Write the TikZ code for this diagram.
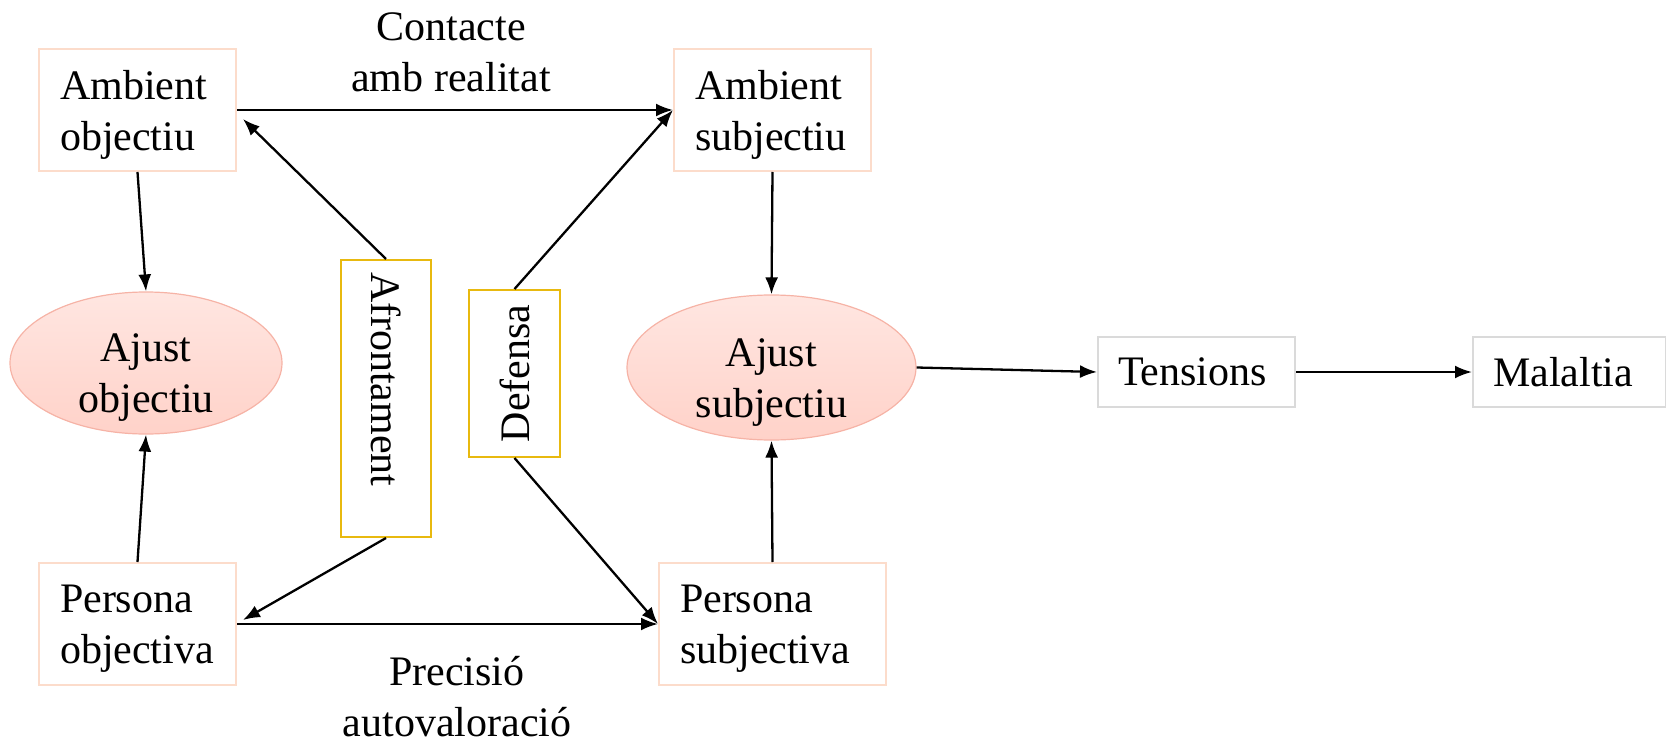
\documentclass[tikz,border=0pt]{standalone}
\usepackage{fontspec}
\setmainfont{Liberation Serif}
\usetikzlibrary{shapes.geometric,arrows.meta,calc}
\definecolor{peachline}{HTML}{FCDCCB}
\definecolor{greyline}{HTML}{DADADA}
\definecolor{goldline}{HTML}{E8B90F}
\definecolor{ellline}{HTML}{F6B3A6}
\definecolor{elltop}{HTML}{FFE6E1}
\definecolor{ellbot}{HTML}{FFD2C9}
\tikzset{
  txt/.style={font=\fontsize{42}{51}\selectfont},
  box/.style={draw=peachline, line width=2pt, fill=white,
    minimum height=122pt, inner sep=0pt},
  boxtext/.style={txt, inner sep=0pt, align=left},
  greybox/.style={txt, draw=greyline, line width=2pt, fill=white,
    minimum height=70pt, inner xsep=20pt, inner ysep=0pt, align=left},
  goldbox/.style={txt, draw=goldline, line width=2pt, fill=white,
    inner xsep=12pt, inner ysep=0pt, align=left},
  ell/.style={ellipse, draw=ellline, line width=1.2pt,
    top color=elltop, bottom color=ellbot, inner sep=0pt},
  elltext/.style={txt, inner sep=0pt, align=center},
  lbl/.style={txt, align=center, inner sep=0pt},
  arr/.style={line width=2.3pt, -{Latex[length=17pt,width=13pt]}},
}
\begin{document}
\begin{tikzpicture}[x=1pt,y=-1pt]
\useasboundingbox (0,0) rectangle (1666,741);

% boxes
\node[box, minimum width=197pt] (ao) at (137.5,110) {};
\node[box, minimum width=197pt] (as) at (772.5,110) {};
\node[box, minimum width=197pt] (po) at (137.5,624) {};
\node[box, minimum width=227pt] (ps) at (772.5,624) {};
\node[boxtext, text width=155pt] (aot) at ([yshift=-5pt]ao.center) {Ambient\\objectiu};
\node[boxtext, text width=155pt] (ast) at ([yshift=-5pt]as.center) {Ambient\\subjectiu};
\node[boxtext, text width=155pt] (pot) at ([yshift=-5pt]po.center) {Persona\\objectiva};
\node[boxtext, text width=185pt] (pst) at ([yshift=-5pt]ps.center) {Persona\\subjectiva};
\node[greybox, text width=157pt] (ten) at (1196.5,372) {Tensions};
\node[greybox, text width=153pt] (mal) at (1569.5,372) {Malaltia};

% fit ellipses
\node[ell, minimum width=272pt, minimum height=142pt] (ajo) at (146,363) {};
\node[ell, minimum width=289pt, minimum height=145pt] (ajs) at (771.5,367.5) {};
\node[elltext] (ajot) at ([yshift=-15pt]ajo.center) {Ajust\\objectiu};
\node[elltext] (ajst) at ([yshift=-15pt]ajs.center) {Ajust\\subjectiu};

% vertical coping boxes
\node[goldbox, rotate=-90, text width=253pt, minimum height=90pt] (afr) at (386,398.5) {Afrontament};
\node[goldbox, rotate=90, text width=143pt, minimum height=91pt, align=center] (def) at (514.5,373.5) {Defensa};

% edge labels
\node[lbl] (contact) at (451,52) {Contacte\\amb realitat};
\node[lbl] (precis) at (457,697) {Precisió\\autovaloració};

% connectors
\draw[arr] (ao.east) -- (as.west);
\draw[arr] (po.east) -- (ps.west);
\draw[arr] (afr.west) -- ([xshift=6pt,yshift=-9pt]ao.east);
\draw[arr] (afr.east) -- ([xshift=6pt,yshift=4pt]po.east);
\draw[arr] (def.east) -- (as.west);
\draw[arr] (def.west) -- (ps.west);
\draw[arr] (ao.south) -- (ajo.north);
\draw[arr] (po.north) -- (ajo.south);
\draw[arr] (as.south) -- (ajs.north);
\draw[arr] (ps.north) -- (ajs.south);
\draw[arr] (ajs.east) -- (ten.west);
\draw[arr] (ten.east) -- (mal.west);
\end{tikzpicture}
\end{document}
